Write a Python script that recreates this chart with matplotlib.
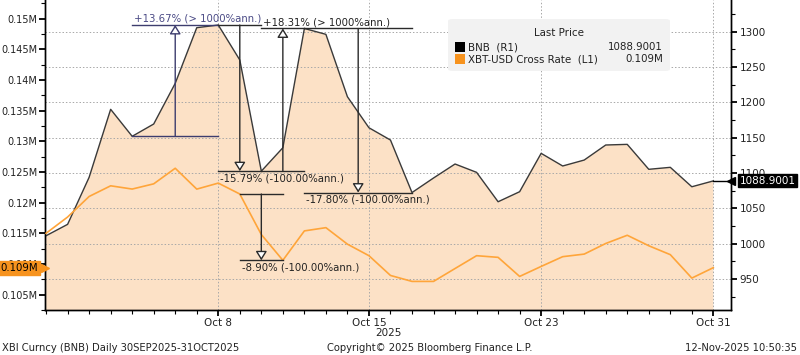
import matplotlib
matplotlib.use('Agg')
import matplotlib.pyplot as plt
import matplotlib.dates as mdates
from matplotlib.patches import FancyBboxPatch
import pandas as pd
import numpy as np

dates = pd.date_range('2025-09-30', '2025-10-31', freq='D')

# BNB price (right axis)
bnb = [1011.3, 1027.4, 1094.0, 1190.2, 1152.0, 1169.4, 1227.0, 1305.7, 1309.5, 1260.0,
       1102.7, 1135.8, 1304.6, 1296.3, 1208.0, 1164.1, 1146.7, 1072.4, 1093.0, 1112.8,
       1101.0, 1059.4, 1073.6, 1127.9, 1110.0, 1118.4, 1139.7, 1140.6, 1105.3, 1108.1,
       1080.6, 1088.9001]

# XBT-USD cross rate, millions (left axis)
xbt = [0.1150, 0.11765, 0.1210, 0.12274, 0.12221, 0.12306, 0.1256, 0.1222, 0.12318, 0.1214,
       0.1148, 0.1106, 0.11539, 0.11592, 0.11323, 0.11135, 0.10813, 0.10716, 0.10716, 0.10926,
       0.11135, 0.11108, 0.10797, 0.1096, 0.11119, 0.11161, 0.11334, 0.11468, 0.11297, 0.11152,
       0.1077, 0.1094]

xtick_dates = ['2025-10-08', '2025-10-15', '2025-10-23', '2025-10-31']
xtick_labels = ['Oct 8', 'Oct 15', 'Oct 23', 'Oct 31']

# trend annotations: start, end, series, label
moves_start = ['2025-10-04', '2025-10-08', '2025-10-10', '2025-10-12', '2025-10-09']
moves_end = ['2025-10-08', '2025-10-10', '2025-10-12', '2025-10-17', '2025-10-11']
moves_series = ['bnb', 'bnb', 'bnb', 'bnb', 'xbt']
moves_labels = ['+13.67% (> 1000%ann.)', '-15.79% (-100.00%ann.)', '+18.31% (> 1000%ann.)',
                '-17.80% (-100.00%ann.)', '-8.90% (-100.00%ann.)']
moves_colors = ['#3d3d6e', '#2a2a2a', '#2a2a2a', '#2a2a2a', '#2a2a2a']

FILL = '#fce1c6'
ORANGE = '#ffa53a'
ORANGE_BOX = '#f7931e'
TXT = '#222222'
FS = 7

plt.rcParams['font.family'] = ['DejaVu Sans']

fig = plt.figure(figsize=(8, 3.55), dpi=100)
ax = fig.add_axes([45 / 800, 1 - 310 / 355, (731 - 45) / 800, 310 / 355])
ax2 = ax.twinx()

x = mdates.date2num(dates)
ax.fill_between(x, bnb, 0, color=FILL, lw=0, zorder=1)
ax.plot(x, bnb, color='#3a3a3a', lw=1.0, zorder=3)
ax2.plot(x, xbt, color=ORANGE, lw=1.2, zorder=3)

ax.set_xlim(x[0] - 0.05, x[-1] + 0.82)
ax.set_ylim(906.2, 1344.9)
ax2.set_ylim(0.10302, 0.15302)

# right axis (BNB) on the main axes, left axis (XBT) on the twin
ax.yaxis.tick_right()
ax2.yaxis.tick_left()
ax.set_yticks(np.arange(950, 1301, 50))
ax.set_yticks(np.arange(925, 1326, 25), minor=True)
ax2.set_yticks(np.arange(0.105, 0.1501, 0.005))
ax2.set_yticks(np.arange(0.1025, 0.1526, 0.0025), minor=True)
ax2.set_yticklabels(['%gM' % round(v, 3) for v in np.arange(0.105, 0.1501, 0.005)])

ax.set_xticks(mdates.date2num(pd.to_datetime(xtick_dates)))
ax.set_xticklabels(xtick_labels)
ax.set_xticks(x, minor=True)

for a in (ax, ax2):
    a.tick_params(axis='both', which='major', labelsize=FS + 0.5, length=4, width=1.3,
                  colors='black', labelcolor=TXT, pad=2)
    a.tick_params(axis='both', which='minor', length=3, width=0.8, colors='black')
    a.spines['top'].set_visible(False)
    for s in ['left', 'right', 'bottom']:
        a.spines[s].set_linewidth(1.0)
ax2.tick_params(axis='y', which='major', labelsize=FS, pad=1.5)
ax2.tick_params(axis='x', which='both', bottom=False, labelbottom=False)

ax.grid(True, which='major', color='#a8a8a8', ls=(0, (1.5, 2)), lw=0.7)

fig.text((45 + 731) / 2 / 800, 1 - 333 / 355, '2025', ha='center', va='center',
         fontsize=FS + 0.5, color=TXT)

# trend annotations
for s, e, ser, lab, col in zip(moves_start, moves_end, moves_series, moves_labels, moves_colors):
    a = ax if ser == 'bnb' else ax2
    vals = bnb if ser == 'bnb' else xbt
    i0 = list(dates).index(pd.Timestamp(s))
    i1 = list(dates).index(pd.Timestamp(e))
    v0, v1 = vals[i0], vals[i1]
    xm = (x[i0] + x[i1]) / 2
    a.plot([x[i0], x[i1]], [v0, v0], color=col, lw=1.0, zorder=4)
    a.plot([x[i0], x[i1]], [v1, v1], color=col, lw=1.0, zorder=4)
    a.annotate('', xy=(xm, v1), xytext=(xm, v0), zorder=5,
               arrowprops=dict(arrowstyle='-|>,head_length=0.45,head_width=0.28',
                               fc='white', ec=col, lw=1.0, mutation_scale=12,
                               shrinkA=0, shrinkB=0))
    up = v1 > v0
    a.annotate(lab, xy=(x[i0], v1), xytext=(1.5, 1.0 if up else -1.5),
               textcoords='offset points', ha='left', va='bottom' if up else 'top',
               fontsize=FS + 0.3, color='#4a4a85' if col == '#3d3d6e' else TXT, zorder=6)

# legend box
leg = FancyBboxPatch((448 / 800, 1 - 71 / 355), (670 - 448) / 800, 52 / 355,
                     boxstyle='round,pad=0,rounding_size=0.006', transform=fig.transFigure,
                     fc='#f2f2f2', ec='none', zorder=10)
fig.patches.append(leg)
fig.text(559 / 800, 1 - 33 / 355, 'Last Price', ha='center', va='center', fontsize=FS + 0.4,
         color=TXT, zorder=12)
rows = [('BNB  (R1)', '%.4f' % bnb[-1], 'black', 47.3),
        ('XBT-USD Cross Rate  (L1)', '%.3fM' % xbt[-1], ORANGE_BOX, 59.3)]
for name, val, c, yy in rows:
    fig.patches.append(FancyBboxPatch((455 / 800, 1 - (yy + 5) / 355), 10 / 800, 10 / 355,
                                      boxstyle='square,pad=0', transform=fig.transFigure,
                                      fc=c, ec='none', zorder=11))
    fig.text(468 / 800, 1 - yy / 355, name, ha='left', va='center', fontsize=FS + 0.4,
             color=TXT, zorder=12)
    fig.text(663 / 800, 1 - yy / 355, val, ha='right', va='center', fontsize=FS + 0.4,
             color=TXT, zorder=12)

# last value tags on the axes
ax.annotate('%.4f' % bnb[-1], xy=(1, bnb[-1]), xycoords=('axes fraction', 'data'),
            xytext=(6, 0), textcoords='offset points', ha='left', va='center',
            fontsize=FS + 0.5, color='white', zorder=12, annotation_clip=False,
            bbox=dict(boxstyle='square,pad=0.15', fc='black', ec='black'))
ax.plot([1.0], [bnb[-1]], marker='<', color='black', ms=6, clip_on=False,
        transform=ax.get_yaxis_transform(), zorder=12)
ax.plot([x[-1], x[-1] + 0.82], [bnb[-1], bnb[-1]], color='black', lw=1.0, zorder=4, clip_on=False)

ax2.annotate('%.3fM' % xbt[-1], xy=(0, xbt[-1]), xycoords=('axes fraction', 'data'),
             xytext=(-5, 0), textcoords='offset points', ha='right', va='center',
             fontsize=FS + 0.3, color='black', zorder=12, annotation_clip=False,
             bbox=dict(boxstyle='square,pad=0.2', fc=ORANGE_BOX, ec=ORANGE_BOX))
ax2.plot([0.0], [xbt[-1]], marker='>', color=ORANGE_BOX, ms=6, clip_on=False,
         transform=ax2.get_yaxis_transform(), zorder=12)

# footer
fig.text(2 / 800, 1 - 348 / 355, 'XBI Curncy (BNB) Daily 30SEP2025-31OCT2025', ha='left',
         va='center', fontsize=FS + 0.2, color=TXT)
fig.text(430 / 800, 1 - 348 / 355, 'Copyright\u00a9 2025 Bloomberg Finance L.P.', ha='center',
         va='center', fontsize=FS + 0.2, color=TXT)
fig.text(797 / 800, 1 - 348 / 355, '12-Nov-2025 10:50:35', ha='right', va='center',
         fontsize=FS + 0.2, color=TXT)

fig.savefig('out.png', dpi=100)
